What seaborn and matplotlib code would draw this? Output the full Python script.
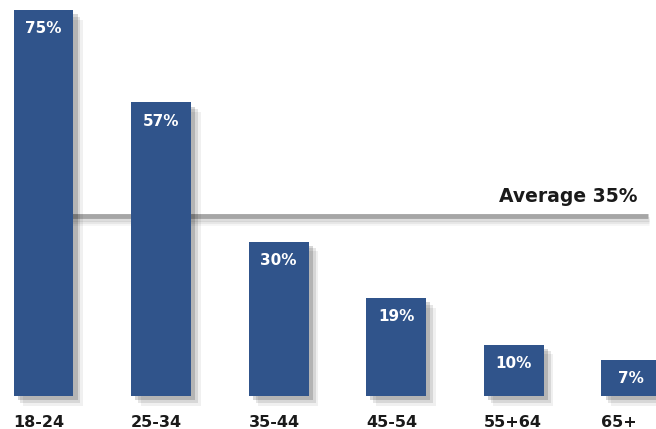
import matplotlib
matplotlib.use("Agg")
import matplotlib.pyplot as plt
import matplotlib.patheffects as pe
import seaborn as sns
import pandas as pd

# data
age_groups = ['18-24', '25-34', '35-44', '45-54', '55+64', '65+']
shares = [75, 57, 30, 19, 10, 7]
average = 35

df = pd.DataFrame({'age': age_groups, 'share': shares})

sns.set_style('white')
plt.rcParams['font.family'] = ['DejaVu Sans']

fig = plt.figure(figsize=(6.56, 4.29), dpi=100)
ax = fig.add_axes([0, 33 / 429, 1, 396 / 429])

bar_color = '#30548b'
bar_w = 0.51
sns.barplot(data=df, x='age', y='share', color=bar_color, saturation=1,
            width=bar_w, ax=ax, zorder=3, linewidth=0)

# soft drop shadow on bars (a few stacked shadows fake the blur)
shadow = [pe.SimplePatchShadow(offset=(o, -o), shadow_rgbFace='black', alpha=a)
          for o, a in [(7, 0.06), (5, 0.10), (3, 0.16)]]
for p in ax.patches:
    p.set_clip_on(False)
    p.set_path_effects(shadow + [pe.Normal()])

# average line
line_shadow = [pe.SimpleLineShadow(offset=(1, -o), shadow_color='black', alpha=a)
               for o, a in [(5, 0.04), (3.5, 0.06), (2, 0.08)]]
ax.plot([-0.2, 5.14], [average, average], color='#a6a6a6', lw=3.5, zorder=1,
        solid_capstyle='butt', path_effects=line_shadow + [pe.Normal()])
ax.text(5.05, average + 1.8, f'Average {average}%', ha='right', va='bottom',
        fontsize=13.5, fontweight='bold', color='#1a1a1a')

# value labels inside bars
for i, v in enumerate(shares):
    ax.text(i, v - 2.2, f'{v}%', ha='center', va='top', color='white',
            fontsize=11, fontweight='bold', zorder=4)

ax.set_xticks([i - bar_w / 2 for i in range(len(age_groups))], age_groups, ha='left')
ax.set_xlim(-0.37, 5.21)
ax.set_ylim(0, 76.9)
ax.set_xlabel('')
ax.set_ylabel('')
ax.set_yticks([])
ax.tick_params(axis='x', length=0, pad=14, labelsize=11.5, labelcolor='#1a1a1a')
for t in ax.get_xticklabels():
    t.set_fontweight('bold')
for s in ax.spines.values():
    s.set_visible(False)

plt.savefig('out.png', dpi=100)
